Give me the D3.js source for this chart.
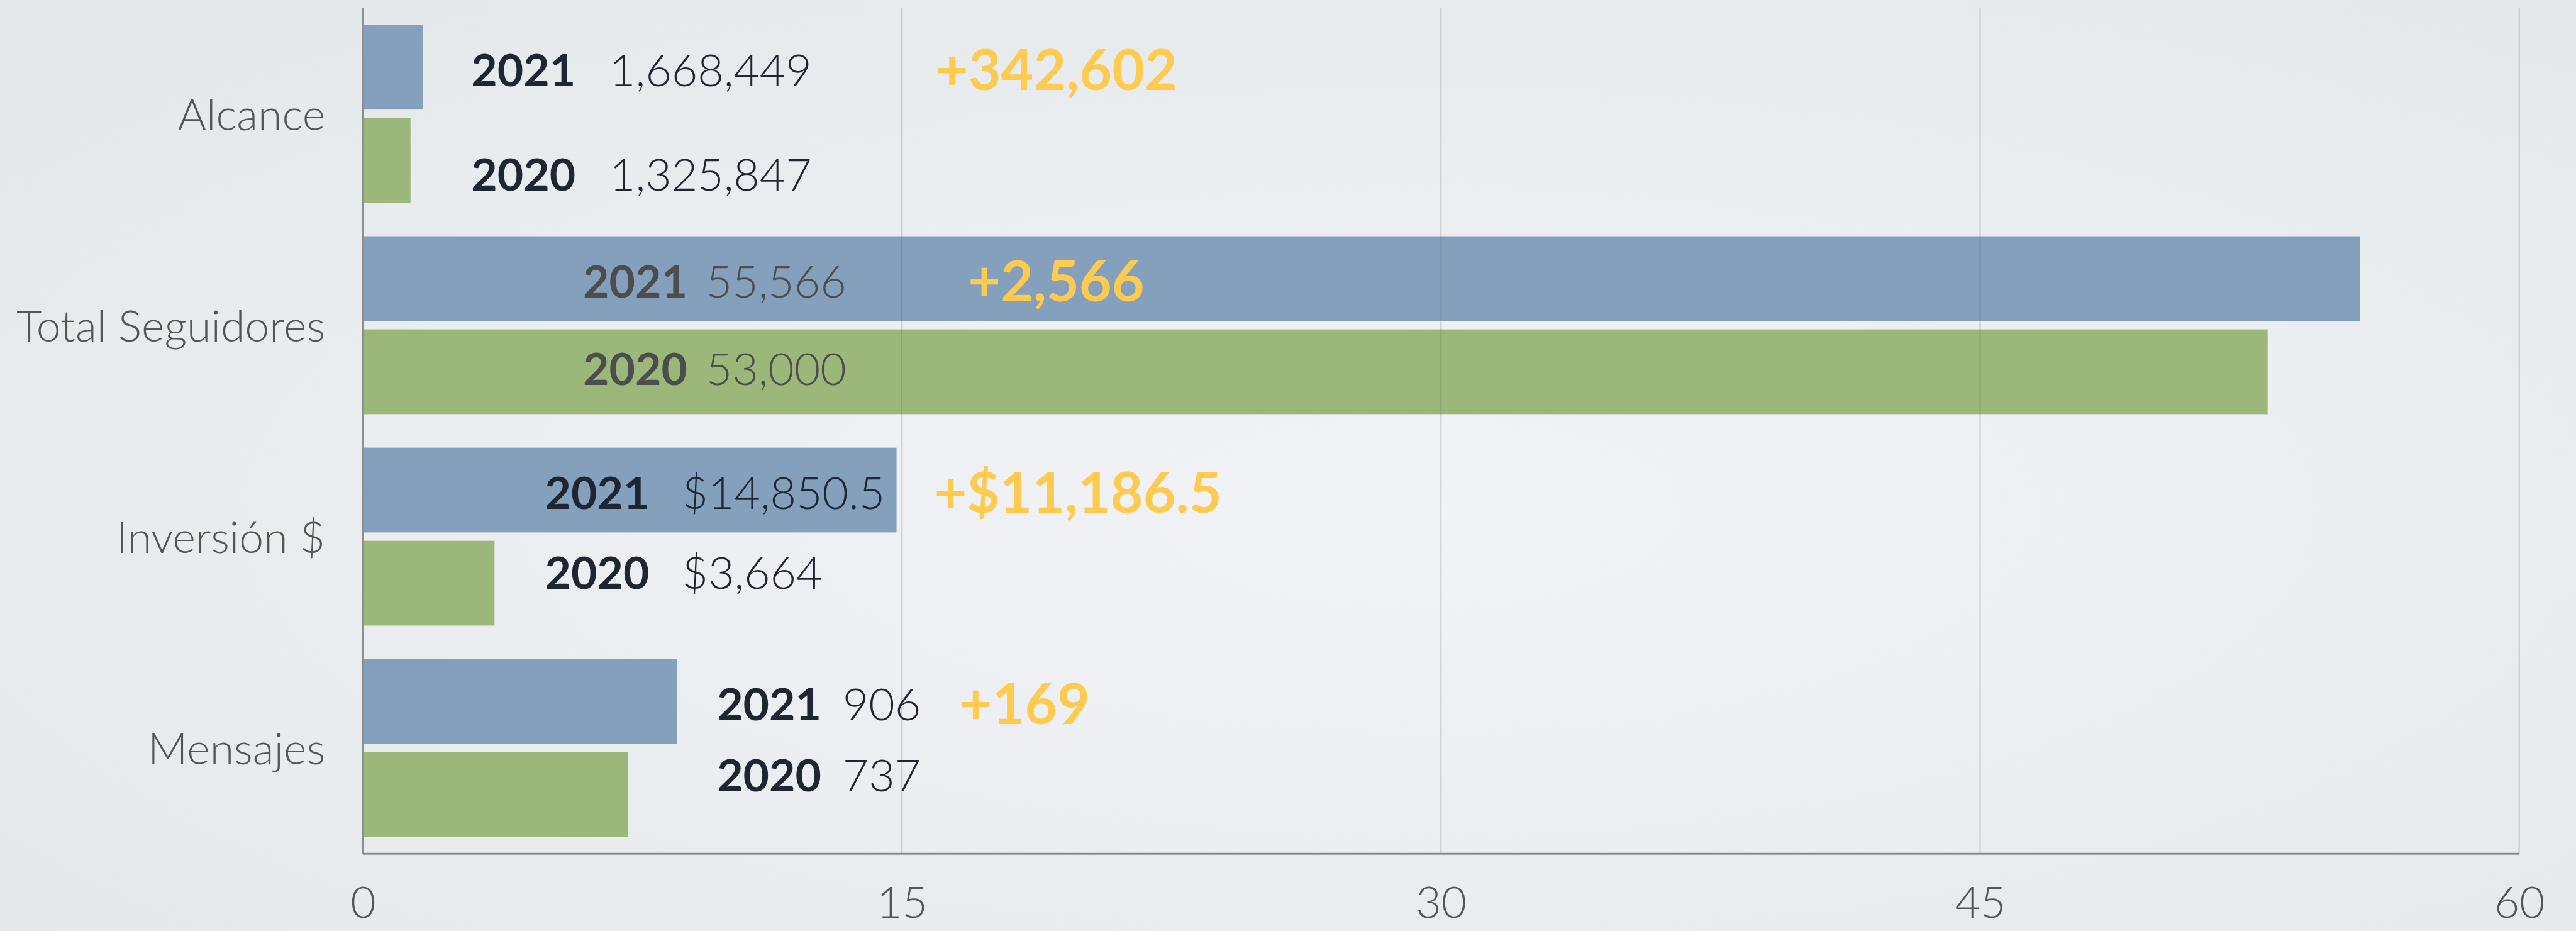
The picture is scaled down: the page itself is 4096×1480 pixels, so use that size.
<!DOCTYPE html>
<html>
<head>
<meta charset="utf-8">
<script src="https://cdn.jsdelivr.net/npm/d3@7"></script>
<style>
  html, body { margin: 0; padding: 0; overflow: hidden; background: #eaedf0; }
  svg { display: block; }
</style>
</head>
<body>
<div id="chart"></div>
<script>
const categories = ['Alcance', 'Total Seguidores', 'Inversión $', 'Mensajes'];
const years = ['2021', '2020'];
const values2021 = [1.668, 55.566, 14.85, 8.74];
const values2020 = [1.326, 53.0, 3.664, 7.37];
const labels2021 = ['1,668,449', '55,566', '$14,850.5', '906'];
const labels2020 = ['1,325,847', '53,000', '$3,664', '737'];
const diffLabels = ['+342,602', '+2,566', '+$11,186.5', '+169'];
const xTicks = [0, 15, 30, 45, 60];

// where the free text boxes sit, in axis units
const yearLabelEnd = [5.92, 9.03, 7.97, 12.76];
const numLabelStart = [6.86, 9.55, 8.88, 13.35];
const diffLabelStart = [15.94, 16.84, 15.9, 16.6];
const label2020Shift = [25, -5, -19, -35];

const W = 4579, H = 1654;
const m = { top: 14, right: 101, bottom: 137, left: 645 };

const svg = d3.select('#chart')
              .append('svg')
              .attr('width', 4096)
              .attr('height', 1480)
              .attr('viewBox', `0 0 ${W} ${H}`);

const defs = svg.append('defs');
const bg = defs.append('radialGradient')
               .attr('id', 'bg')
               .attr('cx', '55%').attr('cy', '55%').attr('r', '75%');
bg.append('stop').attr('offset', '0%').attr('stop-color', '#f2f3f6');
bg.append('stop').attr('offset', '100%').attr('stop-color', '#e4e8eb');

svg.append('rect')
   .attr('width', W)
   .attr('height', H)
   .attr('fill', 'url(#bg)');

const x = d3.scaleLinear()
            .domain([0, 60])
            .range([m.left, W - m.right]);

const y0 = d3.scaleBand()
             .domain(categories)
             .range([m.top, H - m.bottom]);

const y1 = d3.scaleBand()
             .domain(years)
             .range([0, y0.bandwidth()])
             .paddingInner(0.09)
             .paddingOuter(0.18);

const rows = categories.map((c, i) => ({
  cat: c,
  i: i,
  bars: [
    { year: '2021', v: values2021[i], label: labels2021[i], color: '#84a0bc' },
    { year: '2020', v: values2020[i], label: labels2020[i], color: '#9bb779' }
  ]
}));

const groups = svg.selectAll('g.cat')
                  .data(rows)
                  .enter()
                  .append('g')
                  .attr('class', 'cat')
                  .attr('transform', d => `translate(0,${y0(d.cat)})`);

groups.selectAll('rect')
      .data(d => d.bars)
      .enter()
      .append('rect')
      .attr('x', x(0))
      .attr('y', d => y1(d.year))
      .attr('width', d => x(d.v) - x(0))
      .attr('height', y1.bandwidth())
      .attr('fill', d => d.color);

// gridlines show faintly through the bars
svg.append('g')
   .selectAll('line')
   .data(xTicks.filter(t => t > 0))
   .enter()
   .append('line')
   .attr('x1', d => x(d))
   .attr('x2', d => x(d))
   .attr('y1', m.top)
   .attr('y2', H - m.bottom)
   .attr('stroke', 'rgba(90,90,90,0.22)')
   .attr('stroke-width', 2.5);

const xA = d3.axisBottom(x)
             .tickValues(xTicks)
             .tickSize(0)
             .tickPadding(58);

svg.append('g')
   .attr('transform', `translate(0,${H - m.bottom})`)
   .call(xA)
   .call(g => g.select('.domain').remove())
   .selectAll('text')
   .attr('font-family', 'Lato')
   .attr('font-weight', 300)
   .attr('font-size', 78)
   .attr('fill', '#555');

const yA = d3.axisLeft(y0)
             .tickSize(0)
             .tickPadding(67);

svg.append('g')
   .attr('transform', `translate(${m.left},0)`)
   .call(yA)
   .call(g => g.select('.domain').remove())
   .selectAll('text')
   .attr('font-family', 'Lato')
   .attr('font-weight', 300)
   .attr('font-size', 78)
   .attr('dy', '0.37em')
   .attr('fill', '#555');

svg.append('line')
   .attr('x1', x(0)).attr('x2', x(0))
   .attr('y1', m.top).attr('y2', H - m.bottom)
   .attr('stroke', '#8e8e8e')
   .attr('stroke-width', 2.5);

svg.append('line')
   .attr('x1', x(0)).attr('x2', x(60))
   .attr('y1', H - m.bottom).attr('y2', H - m.bottom)
   .attr('stroke', '#8a8a8a')
   .attr('stroke-width', 3.5);

// year + value labels
const textColor = i => i === 1 ? '#4d4d4d' : '#1f2633';

groups.each(function(d) {
  const g = d3.select(this);
  d.bars.forEach((b, j) => {
    const cy = y1(b.year) + y1.bandwidth() / 2 + (j === 0 ? 5 : label2020Shift[d.i]);
    g.append('text')
     .attr('x', x(yearLabelEnd[d.i]))
     .attr('y', cy)
     .attr('dy', '0.36em')
     .attr('text-anchor', 'end')
     .attr('font-family', 'Lato')
     .attr('font-weight', 700)
     .attr('font-size', 80)
     .attr('fill', textColor(d.i))
     .text(b.year);
    g.append('text')
     .attr('x', x(numLabelStart[d.i]))
     .attr('y', cy)
     .attr('dy', '0.36em')
     .attr('font-family', 'Lato')
     .attr('font-weight', 300)
     .attr('font-size', 80)
     .attr('fill', textColor(d.i))
     .text(b.label);
  });
  g.append('text')
   .attr('x', x(diffLabelStart[d.i]))
   .attr('y', y1('2021') + y1.bandwidth() / 2 + 4)
   .attr('dy', '0.36em')
   .attr('font-family', 'Lato')
   .attr('font-weight', 700)
   .attr('font-size', 100)
   .attr('fill', '#ffca50')
   .text(diffLabels[d.i]);
});
</script>
</body>
</html>
